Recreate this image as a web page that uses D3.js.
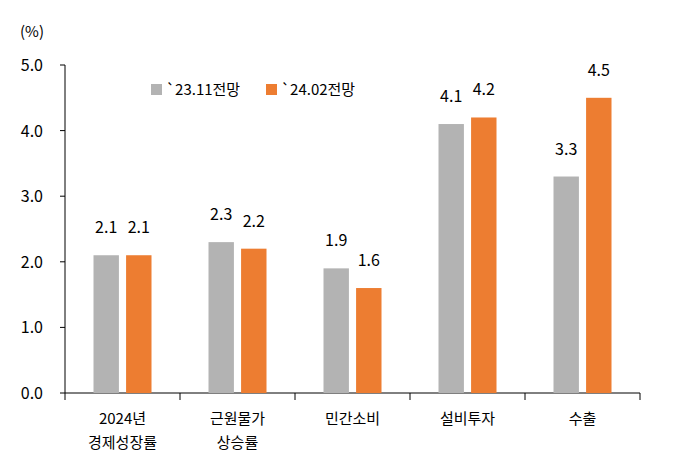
<!DOCTYPE html><html><head><meta charset="utf-8">
<script src="https://cdn.jsdelivr.net/npm/d3@7"></script>
<style>body{margin:0;background:#fff}text{font-family:"Noto Sans CJK KR","Noto Sans",sans-serif;fill:#000}</style>
</head><body><svg width="692" height="464"></svg><script>
const categories=[["2024년","경제성장률"],["근원물가","상승률"],["민간소비"],["설비투자"],["수출"]];
const seriesNames=["`23.11전망","`24.02전망"];
const nov23=[2.1,2.3,1.9,4.1,3.3];
const feb24=[2.1,2.2,1.6,4.2,4.5];
const yTicks=[0,1,2,3,4,5];
const colors=["#b3b3b3","#ed7d31"];
const svg=d3.select("svg");
const L=65,R=640,T=65,B=393;
const x=d3.scaleBand().domain(d3.range(categories.length)).range([L,R]);
const y=d3.scaleLinear().domain([0,5]).range([B,T]);
const sub=d3.scaleBand().domain([0,1]).range([0,58]).paddingInner(0.22);
svg.append("line").attr("x1",L).attr("x2",L).attr("y1",T).attr("y2",B).attr("stroke","#000");
svg.append("line").attr("x1",L).attr("x2",R).attr("y1",B).attr("y2",B).attr("stroke","#000");
yTicks.forEach(t=>{svg.append("line").attr("x1",L-5).attr("x2",L).attr("y1",y(t)).attr("y2",y(t)).attr("stroke","#000");
svg.append("text").attr("x",L-22).attr("y",y(t)+6).attr("text-anchor","end").attr("font-size",16).text(t.toFixed(1));});
d3.range(categories.length+1).forEach(i=>{const xx=i<categories.length?x(i):R;svg.append("line").attr("x1",xx).attr("x2",xx).attr("y1",B).attr("y2",B+7).attr("stroke","#000");});
svg.append("text").attr("x",20).attr("y",37).attr("font-size",15).text("(%)");
[nov23,feb24].forEach((s,si)=>{s.forEach((v,i)=>{const x0=x(i)+x.bandwidth()/2-29+sub(si);
svg.append("rect").attr("x",x0).attr("y",y(v)).attr("width",sub.bandwidth()).attr("height",B-y(v)).attr("fill",colors[si]);
svg.append("text").attr("x",x0+sub.bandwidth()/2).attr("y",y(v)-22).attr("text-anchor","middle").attr("font-size",16).text(v.toFixed(1));});});
categories.forEach((c,i)=>c.forEach((l,j)=>svg.append("text").attr("x",x(i)+x.bandwidth()/2).attr("y",424+j*24).attr("text-anchor","middle").attr("font-size",15).text(l)));
const lx=[151,266];
seriesNames.forEach((n,i)=>{svg.append("rect").attr("x",lx[i]).attr("y",84).attr("width",11).attr("height",11).attr("fill",colors[i]);
svg.append("text").attr("x",lx[i]+15).attr("y",95).attr("font-size",15).text(n);});
</script></body></html>
